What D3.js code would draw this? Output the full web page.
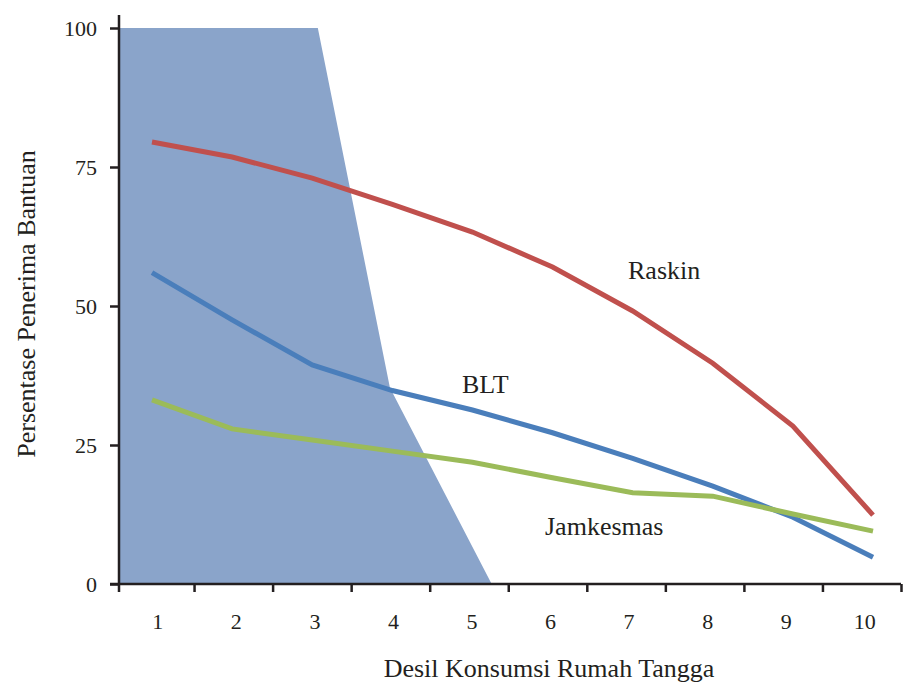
<html lang="id">
<head>
<meta charset="UTF-8">
<title>Persentase Penerima Bantuan</title>
<style>
    body { margin: 0; background: #fff; }
</style>
</head>
<body>
<div id="chart"></div>
<script src="https://d3js.org/d3.v7.min.js"></script>
<script>
    // data
    const deciles = [1, 2, 3, 4, 5, 6, 7, 8, 9, 10];
    const raskin = [79.5, 76.8, 73.0, 68.3, 63.3, 57.0, 49.1, 39.7, 28.4, 12.4];
    const blt = [56.0, 47.5, 39.4, 34.8, 31.3, 27.2, 22.6, 17.6, 12.0, 4.8];
    const jamkesmas = [33.1, 27.9, 25.9, 23.9, 21.9, 19.1, 16.4, 15.8, 12.6, 9.5];
    // shaded region (decile position, percent)
    const shadeX = [3.07, 3.97, 5.24];
    const shadeY = [100, 35.3, 0];
    const yTicks = [0, 25, 50, 75, 100];

    const font = '"Liberation Serif", "DejaVu Serif", serif';
    const ink = '#231f20';

    const width = 903, height = 682;
    const svg = d3.select('#chart').append('svg')
        .attr('width', width)
        .attr('height', height);

    const y = d3.scaleLinear().domain([0, 100]).range([584, 28]);
    // category axis: ticks sit on band boundaries
    const xAxisScale = d3.scaleLinear().domain([0.5, 10.5]).range([115.5, 901]);
    // line points
    const x = d3.scaleLinear().domain([1, 10]).range([152, 873]);
    const axisX = 119;

    // shaded area
    const shadePts = [{ d: x.invert(axisX), v: 100 }]
        .concat(shadeX.map((d, i) => ({ d: d, v: shadeY[i] })));
    svg.append('path')
        .datum(shadePts)
        .attr('fill', '#8aa4ca')
        .attr('d', d3.area()
            .x(p => x(p.d))
            .y0(y(0))
            .y1(p => y(p.v)));

    // lines
    const series = [
        { name: 'Raskin', values: raskin, color: '#c0504d' },
        { name: 'BLT', values: blt, color: '#4a7ebb' },
        { name: 'Jamkesmas', values: jamkesmas, color: '#9bbb59' }
    ];
    const line = d3.line()
        .x((v, i) => x(deciles[i]))
        .y(v => y(v));
    svg.selectAll('.series')
        .data(series)
        .enter()
        .append('path')
        .attr('class', 'series')
        .attr('fill', 'none')
        .attr('stroke', s => s.color)
        .attr('stroke-width', 5)
        .attr('d', s => line(s.values));

    // line labels
    const labels = [
        { text: 'Raskin', x: 628, y: 279 },
        { text: 'BLT', x: 462, y: 393 },
        { text: 'Jamkesmas', x: 545, y: 535 }
    ];
    svg.selectAll('.lbl')
        .data(labels)
        .enter()
        .append('text')
        .attr('class', 'lbl')
        .attr('x', d => d.x)
        .attr('y', d => d.y)
        .style('font-family', font)
        .style('font-size', '26px')
        .style('fill', ink)
        .text(d => d.text);

    // y axis
    const yAxis = svg.append('g')
        .attr('transform', `translate(${axisX},0)`)
        .call(d3.axisLeft(y).tickValues(yTicks).tickSize(9).tickSizeOuter(0).tickPadding(13));
    yAxis.select('.domain').remove();
    yAxis.selectAll('line').attr('stroke', ink).attr('stroke-width', 2.5);
    yAxis.selectAll('text')
        .style('font-family', font)
        .style('font-size', '22px')
        .style('fill', ink);
    svg.append('line')
        .attr('x1', axisX).attr('x2', axisX)
        .attr('y1', 15).attr('y2', 592)
        .attr('stroke', ink).attr('stroke-width', 2.5);

    // x axis
    const xAxis = svg.append('g')
        .attr('transform', `translate(0,${y(0)})`)
        .call(d3.axisBottom(xAxisScale)
            .tickValues(deciles.map(d => d + 0.5))
            .tickFormat('')
            .tickSize(8)
            .tickSizeOuter(0));
    xAxis.select('.domain').remove();
    xAxis.selectAll('line').attr('stroke', ink).attr('stroke-width', 2.5);
    svg.append('line')
        .attr('x1', 110).attr('x2', 901)
        .attr('y1', y(0)).attr('y2', y(0))
        .attr('stroke', ink).attr('stroke-width', 2.5);
    svg.selectAll('.xlbl')
        .data(deciles)
        .enter()
        .append('text')
        .attr('class', 'xlbl')
        .attr('x', d => xAxisScale(d) + 3)
        .attr('y', 629)
        .attr('text-anchor', 'middle')
        .style('font-family', font)
        .style('font-size', '22px')
        .style('fill', ink)
        .text(d => d);

    // axis titles
    svg.append('text')
        .attr('x', 549)
        .attr('y', 677)
        .attr('text-anchor', 'middle')
        .style('font-family', font)
        .style('font-size', '26px')
        .style('fill', ink)
        .text('Desil Konsumsi Rumah Tangga');
    svg.append('text')
        .attr('transform', 'rotate(-90)')
        .attr('x', -304)
        .attr('y', 35)
        .attr('text-anchor', 'middle')
        .style('font-family', font)
        .style('font-size', '26px')
        .style('fill', ink)
        .text('Persentase Penerima Bantuan');
</script>
</body>
</html>
